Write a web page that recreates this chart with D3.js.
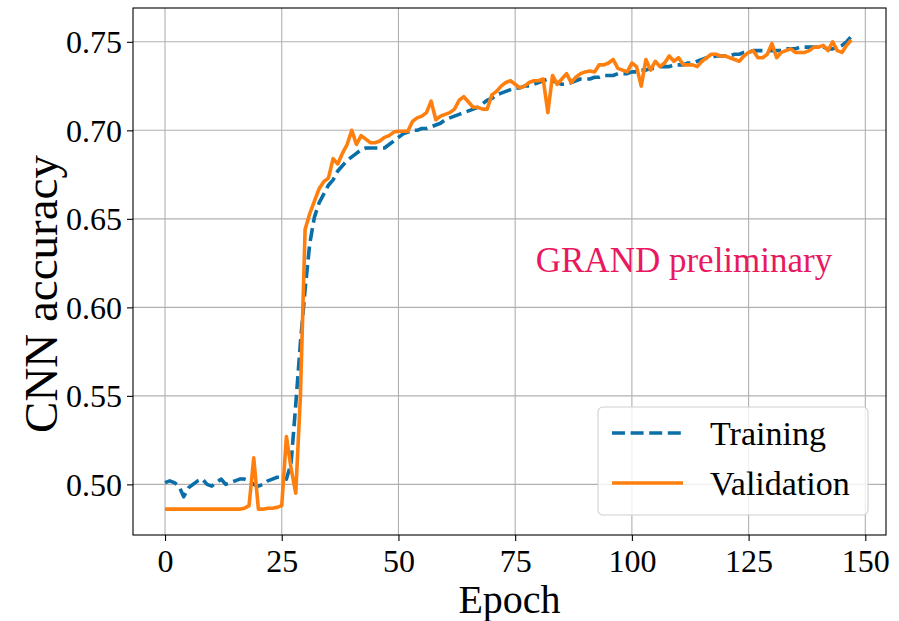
<!DOCTYPE html>
<html>
<head>
<meta charset="utf-8">
<script src="https://cdnjs.cloudflare.com/ajax/libs/d3/7.8.5/d3.min.js"></script>
<style>
  html, body { margin: 0; padding: 0; background: #fff; }
  svg { display: block; }
  text { font-family: "Liberation Serif", "DejaVu Serif", serif; fill: #000; }
</style>
</head>
<body>
<svg id="chart" width="899" height="621"></svg>
<script>
// ---------------- data ----------------
const epochs = d3.range(0, 148);

const training = [
  0.501, 0.502, 0.501, 0.499, 0.493, 0.498, 0.500, 0.502, 0.503, 0.500,
  0.499, 0.501, 0.503, 0.500, 0.501, 0.502, 0.503, 0.503, 0.502, 0.500,
  0.499, 0.500, 0.502, 0.503, 0.504, 0.504, 0.503, 0.512, 0.545, 0.580,
  0.610, 0.636, 0.651, 0.659, 0.664, 0.669, 0.672, 0.677, 0.680, 0.683,
  0.685, 0.687, 0.689, 0.690, 0.690, 0.690, 0.690, 0.690, 0.692, 0.694,
  0.696, 0.698, 0.699, 0.700, 0.700, 0.701, 0.701, 0.702, 0.703, 0.704,
  0.706, 0.707, 0.708, 0.709, 0.710, 0.711, 0.712, 0.713, 0.715, 0.717,
  0.718, 0.720, 0.721, 0.722, 0.723, 0.724, 0.724, 0.725, 0.725, 0.726,
  0.727, 0.728, 0.729, 0.728, 0.727, 0.726, 0.726, 0.727, 0.728, 0.729,
  0.729, 0.729, 0.730, 0.730, 0.731, 0.731, 0.731, 0.732, 0.732, 0.732,
  0.733, 0.733, 0.734, 0.734, 0.735, 0.735, 0.736, 0.736, 0.736, 0.737,
  0.737, 0.737, 0.738, 0.738, 0.739, 0.740, 0.741, 0.741, 0.742, 0.742,
  0.742, 0.742, 0.743, 0.743, 0.744, 0.744, 0.745, 0.745, 0.745, 0.745,
  0.745, 0.745, 0.745, 0.746, 0.746, 0.746, 0.747, 0.747, 0.747, 0.747,
  0.747, 0.747, 0.746, 0.746, 0.747, 0.748, 0.750, 0.753
];

const validation = [
  0.486, 0.486, 0.486, 0.486, 0.486, 0.486, 0.486, 0.486, 0.486, 0.486,
  0.486, 0.486, 0.486, 0.486, 0.486, 0.486, 0.486, 0.4865, 0.488, 0.515,
  0.486, 0.486, 0.4865, 0.4865, 0.487, 0.488, 0.527, 0.509, 0.495, 0.550,
  0.644, 0.653, 0.660, 0.667, 0.671, 0.673, 0.684, 0.681, 0.687, 0.692,
  0.700, 0.692, 0.697, 0.695, 0.693, 0.693, 0.694, 0.696, 0.697, 0.699,
  0.6995, 0.6995, 0.6995, 0.705, 0.707, 0.708, 0.710, 0.7165, 0.706, 0.708,
  0.709, 0.710, 0.712, 0.717, 0.719, 0.716, 0.713, 0.713, 0.712, 0.712,
  0.720, 0.722, 0.725, 0.727, 0.728, 0.726, 0.724, 0.725, 0.727, 0.728,
  0.728, 0.729, 0.710, 0.731, 0.726, 0.729, 0.732, 0.727, 0.730, 0.732,
  0.733, 0.7335, 0.733, 0.737, 0.737, 0.738, 0.740, 0.735, 0.734, 0.733,
  0.738, 0.736, 0.725, 0.740, 0.734, 0.739, 0.736, 0.738, 0.742, 0.739,
  0.741, 0.737, 0.737, 0.737, 0.736, 0.739, 0.741, 0.743, 0.743, 0.742,
  0.742, 0.741, 0.740, 0.739, 0.742, 0.744, 0.745, 0.741, 0.741, 0.743,
  0.749, 0.741, 0.744, 0.745, 0.746, 0.744, 0.744, 0.744, 0.745, 0.747,
  0.747, 0.748, 0.745, 0.750, 0.745, 0.744, 0.748, 0.751
];

const xTicks = [0, 25, 50, 75, 100, 125, 150];
const yTicks = [0.50, 0.55, 0.60, 0.65, 0.70, 0.75];
const seriesNames = ["Training", "Validation"];
const xLabel = "Epoch";
const yLabel = "CNN accuracy";
const annotation = "GRAND preliminary";

// ---------------- layout ----------------
const svg = d3.select("#chart");
const mLeft = 133, mRight = 886, mTop = 8, mBottom = 535;
const blue = "#0a6fa8", orange = "#ff7f0e";

const x = d3.scaleLinear().domain([-6.86, 154.43]).range([mLeft, mRight]);
const y = d3.scaleLinear().domain([0.4714, 0.7691]).range([mBottom, mTop]);

// grid
const grid = svg.append("g");
grid.selectAll(".gx").data(xTicks).enter().append("line")
  .attr("x1", d => x(d)).attr("x2", d => x(d))
  .attr("y1", mTop).attr("y2", mBottom)
  .attr("stroke", "#b0b0b0").attr("stroke-width", 1.1);
grid.selectAll(".gy").data(yTicks).enter().append("line")
  .attr("x1", mLeft).attr("x2", mRight)
  .attr("y1", d => y(d)).attr("y2", d => y(d))
  .attr("stroke", "#b0b0b0").attr("stroke-width", 1.1);

// axes
const xAxis = svg.append("g")
  .attr("transform", `translate(0,${mBottom})`)
  .call(d3.axisBottom(x).tickValues(xTicks).tickFormat(d3.format("d")).tickSize(6).tickPadding(7));
const yAxis = svg.append("g")
  .attr("transform", `translate(${mLeft},0)`)
  .call(d3.axisLeft(y).tickValues(yTicks).tickFormat(d3.format(".2f")).tickSize(6).tickPadding(5));
[xAxis, yAxis].forEach(a => {
  a.select(".domain").remove();
  a.selectAll(".tick line").attr("stroke", "#000").attr("stroke-width", 1.1);
  a.selectAll(".tick text").style("font-size", "32px").style("font-family", '"Liberation Serif", serif');
});
xAxis.selectAll(".tick text").attr("dy", "0.76em");
yAxis.selectAll(".tick text").attr("dy", "0.34em");

// lines
const line = d3.line().x((d, i) => x(epochs[i])).y(d => y(d));
svg.append("path").datum(training)
  .attr("d", line).attr("fill", "none")
  .attr("stroke", blue).attr("stroke-width", 3.6)
  .attr("stroke-dasharray", "13,5.6")
  .attr("stroke-linejoin", "round");
svg.append("path").datum(validation)
  .attr("d", line).attr("fill", "none")
  .attr("stroke", orange).attr("stroke-width", 3.6)
  .attr("stroke-linejoin", "round");

// frame
svg.append("rect").attr("x", mLeft).attr("y", mTop)
  .attr("width", mRight - mLeft).attr("height", mBottom - mTop)
  .attr("fill", "none").attr("stroke", "#000").attr("stroke-width", 1.1);

// annotation
svg.append("text")
  .attr("x", 684).attr("y", 272)
  .attr("text-anchor", "middle")
  .style("font-size", "35px")
  .style("fill", "#e8195f")
  .text(annotation);

// axis labels
svg.append("text")
  .attr("x", (mLeft + mRight) / 2).attr("y", 613)
  .attr("text-anchor", "middle")
  .style("font-size", "40px")
  .text(xLabel);
svg.append("text")
  .attr("transform", `translate(57,294) rotate(-90)`)
  .attr("text-anchor", "middle")
  .style("font-size", "47px")
  .text(yLabel);

// legend
const lg = svg.append("g");
lg.append("rect")
  .attr("x", 598).attr("y", 407).attr("width", 270).attr("height", 108)
  .attr("rx", 5).attr("ry", 5)
  .attr("fill", "#fff").attr("fill-opacity", 0.8)
  .attr("stroke", "#d0d0d0").attr("stroke-width", 1.1);
const legendItems = [
  { name: seriesNames[0], color: blue, dash: "13,5.6", yy: 433 },
  { name: seriesNames[1], color: orange, dash: null, yy: 483 }
];
legendItems.forEach(it => {
  lg.append("line")
    .attr("x1", 612).attr("x2", 683).attr("y1", it.yy).attr("y2", it.yy)
    .attr("stroke", it.color).attr("stroke-width", 3.6)
    .attr("stroke-dasharray", it.dash);
  lg.append("text")
    .attr("x", 710).attr("y", it.yy + 12)
    .style("font-size", "34px")
    .text(it.name);
});
</script>
</body>
</html>
